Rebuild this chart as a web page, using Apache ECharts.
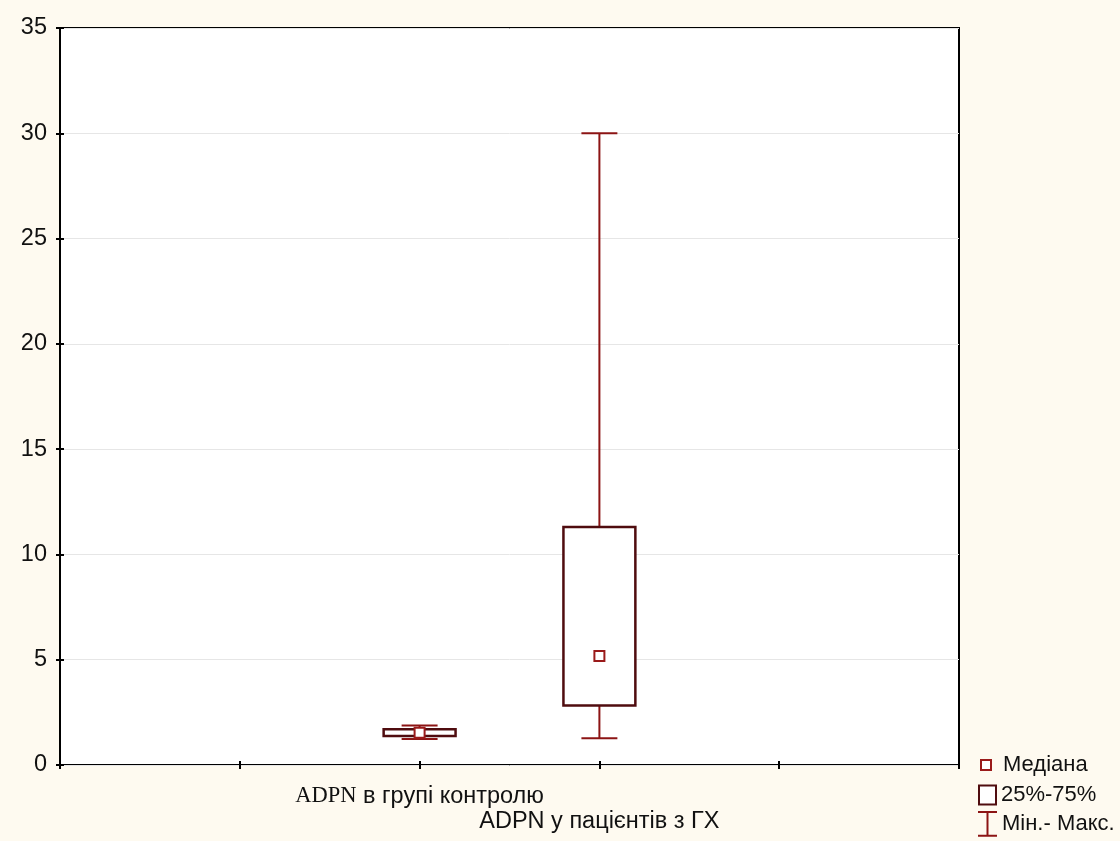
<!DOCTYPE html>
<html>
<head>
<meta charset="utf-8">
<script src="https://cdn.jsdelivr.net/npm/echarts@6/dist/echarts.min.js"></script>
<style>
  html, body { margin: 0; padding: 0; background: #fefaf0; }
  #chart { width: 1120px; height: 841px; }
</style>
</head>
<body>
<div id="chart"></div>
<script>
// groups and their position on the x scale
var groups = ['ADPN в групі контролю', 'ADPN у пацієнтів з ГХ'];
var groupPos = [2, 3];
// min, q1, median, q3, max
var minVals = [1.23, 1.27];
var q1Vals = [1.38, 2.82];
var medVals = [1.53, 5.18];
var q3Vals = [1.70, 11.3];
var maxVals = [1.87, 30.0];
var yTicks = [0, 5, 10, 15, 20, 25, 30, 35];

var whiskerColor = '#8c1414';
var boxColor = '#4f0c0f';
var font = 'Liberation Sans, Arial, sans-serif';

var chart = echarts.init(document.getElementById('chart'));

var boxData = groupPos.map(function (x, i) { return [x, q1Vals[i], q3Vals[i]]; });
var whiskerData = groupPos.map(function (x, i) { return [x, minVals[i], maxVals[i]]; });
var medData = groupPos.map(function (x, i) { return [x, medVals[i]]; });

var option = {
  backgroundColor: '#fefaf0',
  animation: false,
  grid: {
    left: 60, top: 28, right: 161, bottom: 76,
    show: true, backgroundColor: '#ffffff',
    borderColor: '#000', borderWidth: 2
  },
  legend: [
    {
      data: [{ name: 'Медіана', icon: 'rect', itemStyle: { color: '#fff', borderColor: '#9a1a1a', borderWidth: 2 } }],
      left: 975, top: 749, itemWidth: 10, itemHeight: 10,
      textStyle: { fontSize: 22, color: '#111', fontFamily: font, padding: [0, 0, 0, 7] }
    },
    {
      data: [{ name: '25%-75%', icon: 'rect', itemStyle: { color: '#fff', borderColor: boxColor, borderWidth: 2 } }],
      left: 973, top: 779, itemWidth: 17, itemHeight: 19,
      textStyle: { fontSize: 22, color: '#111', fontFamily: font }
    },
    {
      data: [{ name: 'Мін.- Макс.', icon: 'path://M0,0H20M10,0V25M0,25H20', itemStyle: { color: 'transparent', borderColor: whiskerColor, borderWidth: 2 } }],
      left: 972, top: 806, itemWidth: 19, itemHeight: 24,
      textStyle: { fontSize: 22, color: '#111', fontFamily: font }
    }
  ],
  xAxis: [
    {
      type: 'value', min: 0, max: 5, interval: 1,
      axisLine: { show: false },
      axisTick: { show: true, inside: true, length: 4, lineStyle: { color: '#000', width: 2 } },
      splitLine: { show: false },
      axisLabel: {
        show: true, margin: 19, fontSize: 23.5, color: '#111', fontFamily: font, lineHeight: 25,
        formatter: function (v) {
          var i = groupPos.indexOf(v);
          if (i === 0) return '{s|ADPN} в групі контролю';
          if (i === 1) return '\n' + groups[1];
          return '';
        },
        rich: {
          s: { fontFamily: 'Liberation Serif, Times New Roman, serif', fontSize: 22.5, color: '#111', lineHeight: 25 }
        }
      }
    },
    {
      type: 'value', min: 0, max: 5, interval: 1, position: 'top',
      axisLine: { show: false },
      axisTick: { show: true, inside: true, length: 4, lineStyle: { color: '#000', width: 2 } },
      axisLabel: { show: false },
      splitLine: { show: false }
    }
  ],
  yAxis: [
    {
      type: 'value', min: yTicks[0], max: yTicks[yTicks.length - 1], interval: 5,
      axisLine: { show: false },
      axisTick: { show: true, inside: true, length: 4, lineStyle: { color: '#000', width: 2 } },
      axisLabel: { fontSize: 23.5, color: '#111', fontFamily: font, margin: 13 },
      splitLine: { show: true, lineStyle: { color: '#e6e6e6', width: 1 } }
    },
    {
      type: 'value', min: yTicks[0], max: yTicks[yTicks.length - 1], interval: 5, position: 'right',
      axisLine: { show: false },
      axisTick: { show: true, inside: true, length: 4, lineStyle: { color: '#000', width: 2 } },
      axisLabel: { show: false },
      splitLine: { show: false }
    }
  ],
  series: [
    {
      name: 'Мін.- Макс.',
      type: 'custom',
      data: whiskerData,
      renderItem: function (params, api) {
        var x = api.value(0);
        var lo = api.coord([x, api.value(1)]);
        var hi = api.coord([x, api.value(2)]);
        var half = api.size([0.2, 0])[0] / 2;
        var st = { stroke: whiskerColor, lineWidth: 2 };
        return {
          type: 'group',
          children: [
            { type: 'line', shape: { x1: lo[0], y1: lo[1], x2: hi[0], y2: hi[1] }, style: st },
            { type: 'line', shape: { x1: lo[0] - half, y1: lo[1], x2: lo[0] + half, y2: lo[1] }, style: st },
            { type: 'line', shape: { x1: hi[0] - half, y1: hi[1], x2: hi[0] + half, y2: hi[1] }, style: st }
          ]
        };
      },
      z: 2
    },
    {
      name: '25%-75%',
      type: 'custom',
      data: boxData,
      renderItem: function (params, api) {
        var x = api.value(0);
        var bottom = api.coord([x, api.value(1)]);
        var top = api.coord([x, api.value(2)]);
        var w = api.size([0.4, 0])[0];
        return {
          type: 'rect',
          shape: { x: bottom[0] - w / 2, y: top[1], width: w, height: bottom[1] - top[1] },
          style: { fill: '#fff', stroke: boxColor, lineWidth: 2.5 }
        };
      },
      z: 3
    },
    {
      name: 'Медіана',
      type: 'scatter',
      data: medData,
      symbol: 'rect',
      symbolSize: 10,
      itemStyle: { color: '#fff', borderColor: '#9a1a1a', borderWidth: 2, opacity: 1 },
      z: 4
    }
  ]
};

chart.setOption(option);
</script>
</body>
</html>
